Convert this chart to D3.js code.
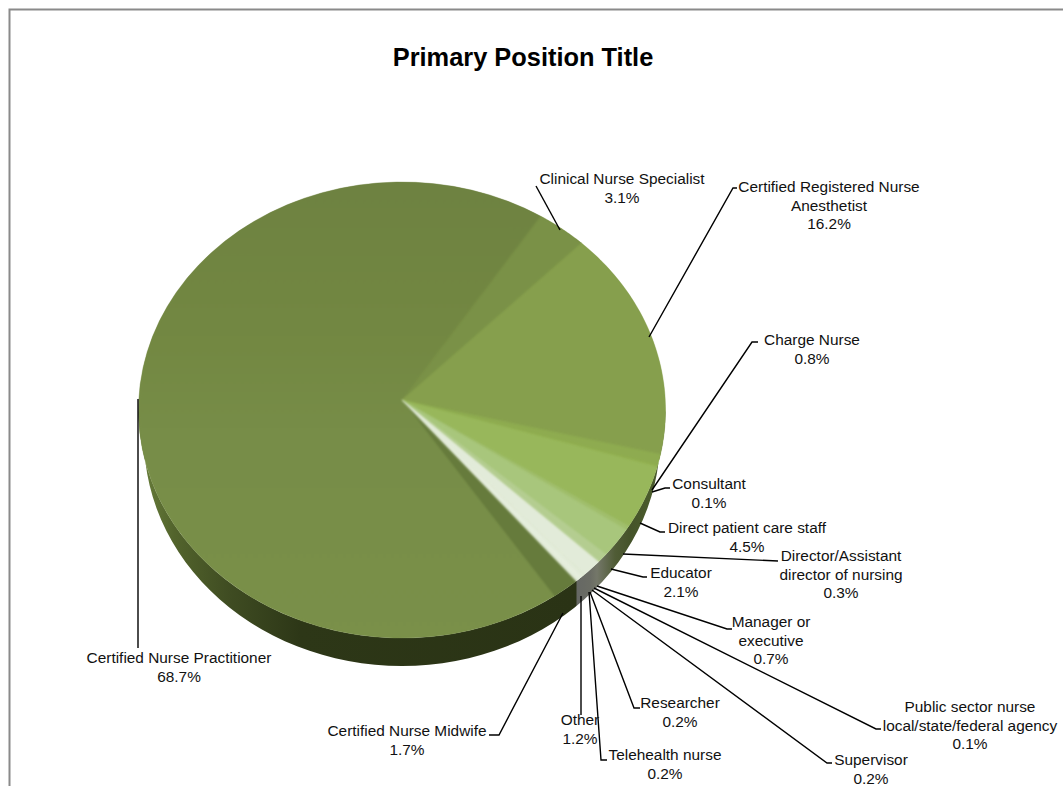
<!DOCTYPE html>
<html><head><meta charset="utf-8">
<script src="https://cdn.jsdelivr.net/npm/d3@7"></script>
<style>html,body{margin:0;padding:0;background:#fff}svg{display:block}text{font-family:"Liberation Sans",Arial,sans-serif;fill:#111}</style>
</head><body><svg id="c" width="1063" height="786"></svg>
<script>
const categories = ["Certified Nurse Midwife","Certified Nurse Practitioner","Clinical Nurse Specialist","Certified Registered Nurse Anesthetist","Charge Nurse","Consultant","Direct patient care staff","Director/Assistant director of nursing","Educator","Manager or executive","Other","Public sector nurse local/state/federal agency","Researcher","Supervisor","Telehealth nurse"];
const values = [1.7,68.7,3.1,16.2,0.8,0.1,4.5,0.3,2.1,0.7,1.2,0.1,0.2,0.2,0.2];
const sliceColors = ["#667b3c","url(#cnp)","#7a9147","#869f4d","#8eab50","#92b04f","#98b75b","#a0be6c","#a8c67c","#b4cd90","#e2ebd9","#dfe9d3","#e2ebd9","#e6eede","#e2ebd9"];

// label line breaks, centre x, first-line baseline y, leader polyline
const labelLines = [["Certified Nurse Midwife","1.7%"],["Certified Nurse Practitioner","68.7%"],["Clinical Nurse Specialist","3.1%"],["Certified Registered Nurse","Anesthetist","16.2%"],["Charge Nurse","0.8%"],["Consultant","0.1%"],["Direct patient care staff","4.5%"],["Director/Assistant","director of nursing","0.3%"],["Educator","2.1%"],["Manager or","executive","0.7%"],["Other","1.2%"],["Public sector nurse","local/state/federal agency","0.1%"],["Researcher","0.2%"],["Supervisor","0.2%"],["Telehealth nurse","0.2%"]];
const labelX = [407,179,622,829,812,709,747,841,681,771,580,970,680,871,665];
const labelY = [736,663,184,192,345,489,533,561,578,627,725,712,708,765,760];
const leaders = [
 [[563,613],[499,735],[489,735]],
 [[138,399],[138,648]],
 [[560,230],[536,186]],
 [[649,337],[733,188],[737,188]],
 [[652,490],[752,342],[758,342]],
 [[652,492],[665,488],[670,488]],
 [[640,523],[660,532],[665,532]],
 [[623,554],[778,561]],
 [[611,569],[643,577],[647,577]],
 [[597,586],[727,629],[732,629]],
 [[581,596],[581,715]],
 [[594,588],[876,729],[881,729]],
 [[590,592],[634,708],[640,708]],
 [[592,590],[827,763],[832,763]],
 [[589,592],[601,760],[607,760]]
];

const svg = d3.select("#c");
const cx = 402, cy = 410, rx = 263.5, ry = 228, apexY = 400;
const bx = 258, by = 438, t0 = 138.6 * Math.PI / 180;
const top_ = t => [cx + rx * Math.sin(t), cy - ry * Math.cos(t)];
const low = t => [cx + bx * Math.sin(t), by - ry * Math.cos(t)];
const line = d3.line();
const sample = (a, b) => d3.range(0, 61).map(i => a + (b - a) * i / 60);

const defs = svg.append("defs");
const g1 = defs.append("linearGradient").attr("id","cnp").attr("gradientUnits","userSpaceOnUse").attr("x1",0).attr("y1",182).attr("x2",0).attr("y2",640);
[[0,"#6e8241"],[0.35,"#738842"],[0.55,"#778d48"],[1,"#7a9049"]].forEach(s=>g1.append("stop").attr("offset",s[0]).attr("stop-color",s[1]));
const g2 = defs.append("linearGradient").attr("id","side").attr("gradientUnits","userSpaceOnUse").attr("x1",138).attr("y1",0).attr("x2",665).attr("y2",0);
[[138,"#6a803c"],[175,"#52632c"],[230,"#3f4c22"],[300,"#2d3717"],[576,"#2a3315"],[577,"#666864"],[590,"#6a6c64"],[597,"#747769"],[615,"#505c36"],[630,"#45532a"],[650,"#4a5b2c"],[665,"#46552b"]]
 .forEach(s=>g2.append("stop").attr("offset",(s[0]-138)/527).attr("stop-color",s[1]));
defs.append("filter").attr("id","soft").attr("x","-5%").attr("y","-5%").attr("width","110%").attr("height","110%")
  .attr("color-interpolation-filters","sRGB")
  .append("feGaussianBlur").attr("stdDeviation",0.8);
defs.append("clipPath").attr("id","face").append("path")
  .attr("d", line(sample(0, 2*Math.PI).map(top_)) + "Z");

// frame
svg.append("path").attr("d","M9.5,786V9.5H1063").attr("fill","none").attr("stroke","#8a8a8a").attr("stroke-width",2);

// title
svg.append("text").attr("x",523).attr("y",66).attr("text-anchor","middle").attr("font-size",25.4).attr("font-weight","bold").style("fill","#000").text("Primary Position Title");

// side wall
const sideTs = sample(Math.PI/2, 3*Math.PI/2);
svg.append("path").attr("fill","url(#side)")
  .attr("d", line(sideTs.map(low).concat(sideTs.slice().reverse().map(top_))) + "Z");

// top face slices: a crisp layer, then a softened copy held inside the rim
const pie = d3.pie().sort(null).startAngle(t0).endAngle(t0 + 2*Math.PI);
const wedge = d => line([[cx,apexY]].concat(sample(d.startAngle,d.endAngle).map(top_))) + "Z";
svg.append("g").selectAll("path").data(pie(values)).join("path")
  .attr("fill",(d,i)=>sliceColors[i]).attr("stroke",(d,i)=>sliceColors[i]).attr("stroke-width",0.4).attr("d",wedge);
svg.append("g").attr("clip-path","url(#face)").append("g").attr("filter","url(#soft)")
  .selectAll("path").data(pie(values)).join("path")
  .attr("fill",(d,i)=>sliceColors[i]).attr("stroke",(d,i)=>sliceColors[i]).attr("stroke-width",0.4).attr("d",wedge);

// leaders
svg.append("g").selectAll("path").data(leaders).join("path")
  .attr("fill","none").attr("stroke","#000").attr("stroke-width",1.4).attr("d",d=>line(d));

// labels
const lab = svg.append("g").selectAll("text").data(categories).join("text")
  .attr("text-anchor","middle").attr("font-size",15.4);
lab.each(function(d,i){
  d3.select(this).selectAll("tspan").data(labelLines[i]).join("tspan")
    .attr("x",labelX[i]).attr("y",(s,j)=>labelY[i]+j*18.7).text(s=>s);
});
</script></body></html>
